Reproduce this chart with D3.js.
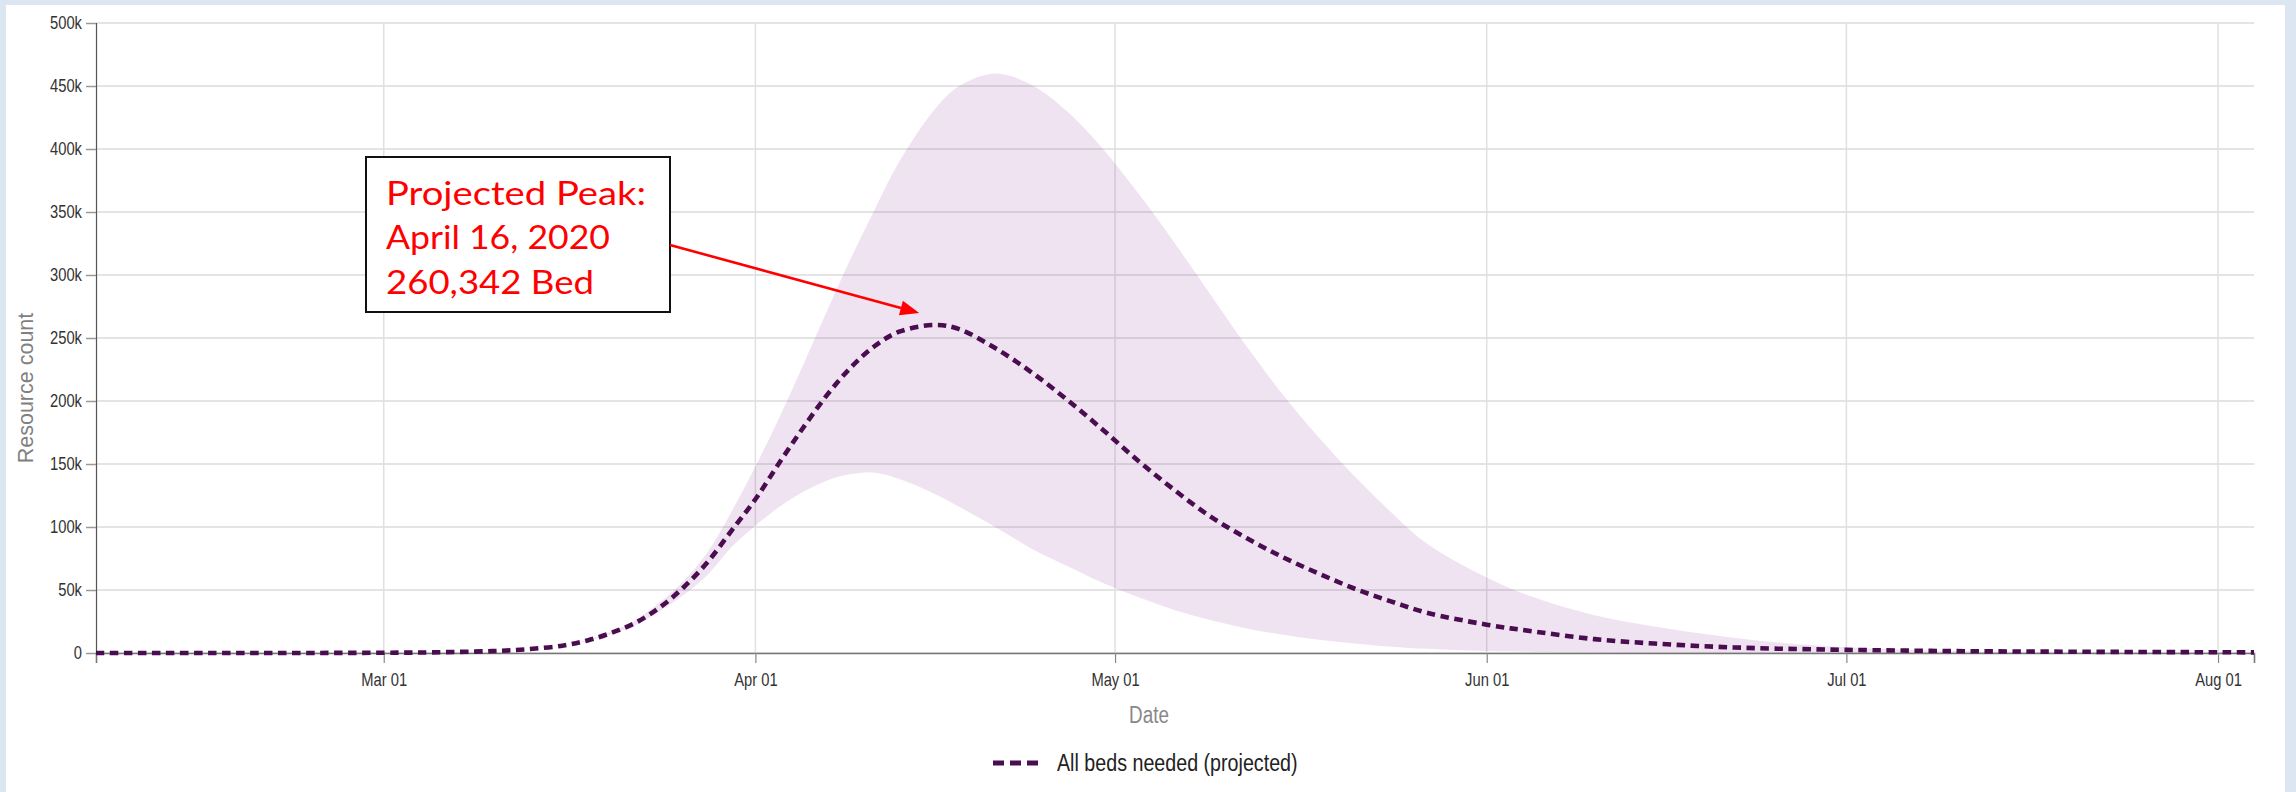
<!DOCTYPE html>
<html><head><meta charset="utf-8">
<script src="https://cdn.jsdelivr.net/npm/d3@7"></script>
<style>
html,body{margin:0;padding:0;background:#dce6f2;}
svg{display:block;}
</style></head><body>
<svg id="chart" width="2296" height="792"></svg>
<script>
// ---- data ----
const dateLabels = ["2020-02-06","2020-02-20","2020-03-01","2020-03-05","2020-03-10","2020-03-13","2020-03-16","2020-03-18","2020-03-20","2020-03-22","2020-03-24","2020-03-26","2020-03-28","2020-03-30","2020-04-01","2020-04-03","2020-04-05","2020-04-07","2020-04-09","2020-04-11","2020-04-13","2020-04-16","2020-04-18","2020-04-21","2020-04-24","2020-04-27","2020-04-30","2020-05-03","2020-05-06","2020-05-09","2020-05-12","2020-05-15","2020-05-18","2020-05-21","2020-05-24","2020-05-27","2020-06-01","2020-06-05","2020-06-10","2020-06-15","2020-06-20","2020-06-25","2020-07-01","2020-07-10","2020-07-20","2020-08-04"];
const bedsMean  = [0,0,200,500,1500,3000,6000,10000,16000,24000,36000,52000,72000,97000,122000,151000,179000,205000,227000,244000,255000,260342,257000,242000,223000,201000,177000,152000,129000,108000,91000,76000,63000,51000,41000,32000,22500,17000,11000,7500,5000,3500,2500,1500,1000,500];
const bedsLower = [0,0,200,500,1500,3000,6000,9500,15000,22000,33000,46000,62000,84000,101000,116000,128000,137000,142000,143000,138000,126000,116000,100000,83000,69000,55500,44000,34000,26000,19500,14500,10500,7500,5000,3300,1500,800,300,0,0,0,0,0,0,0];
const bedsUpper = [0,0,200,500,1500,3000,6000,10500,17000,26000,40000,57000,80000,112000,148000,187000,229000,272000,314000,353000,390000,432000,450000,460000,451000,430000,400000,364000,325000,284000,243000,205000,171000,140000,112000,87000,60000,44000,30000,21000,14000,8500,4500,1500,500,0];
const yTickValues = [0,50000,100000,150000,200000,250000,300000,350000,400000,450000,500000];
const xDomainLabels = ["2020-02-06","2020-08-04"];
const legendLabel = "All beds needed (projected)";
const xAxisTitle = "Date";
const yAxisTitle = "Resource count";
const annotationLines = ["Projected Peak:", "April 16, 2020", "260,342 Bed"];
const peakDateLabel = "2020-04-16";
const peakValue = 260342;

// ---- layout ----
const W = 2296, H = 792;
const L = 96, R = 2254, T = 23, B = 653;
const SX = 0.82; // horizontal text compression seen in the picture

const parse = d3.timeParse("%Y-%m-%d");
const data = dateLabels.map((d,i)=>({date:parse(d), mean:bedsMean[i], lo:bedsLower[i], hi:bedsUpper[i]}));

const x = d3.scaleTime().domain(xDomainLabels.map(parse)).range([L, R]);
const y = d3.scaleLinear().domain([0, 500000]).range([B, T]);

const svg = d3.select("#chart");
svg.append("rect").attr("x",6).attr("y",5).attr("width",2279).attr("height",787).attr("fill","#fff");

const monthTicks = x.ticks(d3.timeMonth.every(1));

// gridlines
svg.append("g").selectAll("line").data(yTickValues).join("line")
  .attr("x1",L).attr("x2",R).attr("y1",d=>y(d)).attr("y2",d=>y(d))
  .attr("stroke","#e4e4e4").attr("stroke-width",2);
svg.append("g").selectAll("line").data(monthTicks).join("line")
  .attr("x1",d=>x(d)).attr("x2",d=>x(d)).attr("y1",T).attr("y2",B)
  .attr("stroke","#e0e0e0").attr("stroke-width",1.5);

// band
const curve = d3.curveCatmullRom.alpha(0.5);
const area = d3.area().x(d=>x(d.date)).y0(d=>y(d.lo)).y1(d=>y(d.hi)).curve(curve);
svg.append("path").datum(data).attr("d",area)
  .attr("fill","rgb(140,40,150)").attr("fill-opacity",0.13);

// axes
const yAxis = d3.axisLeft(y).tickValues(yTickValues).tickSize(10).tickPadding(4)
  .tickFormat(v => v===0 ? "0" : (v/1000)+"k");
const gy = svg.append("g").attr("transform",`translate(${L},0)`).call(yAxis);
gy.select(".domain").attr("stroke","#555").attr("stroke-width",1.2);
gy.selectAll(".tick line").attr("stroke","#999").attr("stroke-width",1.5);
gy.selectAll(".tick text").attr("font-family","'Liberation Sans', Arial, sans-serif")
  .attr("font-size",18).attr("fill","#333")
  .attr("x",-14/SX).attr("transform",`scale(${SX},1)`);

const xAxis = d3.axisBottom(x).tickValues(monthTicks).tickSize(10).tickPadding(8)
  .tickFormat(d3.timeFormat("%b %d"));
const gx = svg.append("g").attr("transform",`translate(0,${B})`).call(xAxis);
gx.select(".domain").attr("stroke","#777").attr("stroke-width",1.6);
gx.selectAll(".tick line").attr("stroke","#888").attr("stroke-width",1.2);
gx.selectAll(".tick text").attr("font-family","'Liberation Sans', Arial, sans-serif")
  .attr("font-size",18).attr("fill","#333").attr("y",20)
  .attr("transform",`scale(${SX},1)`);

// mean line
const line = d3.line().x(d=>x(d.date)).y(d=>y(d.mean)).curve(curve);
svg.append("path").datum(data).attr("d",line)
  .attr("fill","none").attr("stroke","#4a0d4f").attr("stroke-width",4.6)
  .attr("stroke-dasharray","8.5,5.5");

// axis titles
svg.append("g").attr("transform","translate(1149,723)")
  .append("text").attr("transform",`scale(${SX},1)`).attr("text-anchor","middle")
  .attr("font-family","'Liberation Sans', Arial, sans-serif").attr("font-size",23)
  .attr("fill","#888").text(xAxisTitle);
svg.append("text").attr("transform","translate(33,388) rotate(-90)")
  .attr("text-anchor","middle").attr("font-family","'Liberation Sans', Arial, sans-serif")
  .attr("font-size",21.5).attr("fill","#808080").text(yAxisTitle);

// legend
svg.append("line").attr("x1",993).attr("x2",1038).attr("y1",763).attr("y2",763)
  .attr("stroke","#4a0d4f").attr("stroke-width",5).attr("stroke-dasharray","11,6");
svg.append("g").attr("transform","translate(1057,771)")
  .append("text").attr("transform",`scale(${SX},1)`)
  .attr("font-family","'Liberation Sans', Arial, sans-serif").attr("font-size",24)
  .attr("fill","#222").text(legendLabel);

// annotation
const box = {x:366, y:157, w:304, h:155};
svg.append("rect").attr("x",box.x).attr("y",box.y).attr("width",box.w).attr("height",box.h)
  .attr("fill","#fff").attr("stroke","#111").attr("stroke-width",2);
const annFont = "Lato, 'Open Sans', sans-serif";
const baselines = [204.5, 249, 293.5];
const lineWidths = [260, 224, 208];
svg.append("g").selectAll("text").data(annotationLines).join("text")
  .attr("x",386).attr("y",(d,i)=>baselines[i])
  .attr("textLength",(d,i)=>lineWidths[i]).attr("lengthAdjust","spacingAndGlyphs")
  .attr("font-family",annFont).attr("font-size",32).attr("fill","#ff0000").text(d=>d);

// arrow
const peakX = x(parse(peakDateLabel)), peakY = y(peakValue);
const sx = box.x+box.w, sy = 245;
const tx = peakX - 16, ty = peakY - 12;
const ang = Math.atan2(ty-sy, tx-sx);
const hl = 19, hw = 7.5;
const bx = tx - hl*Math.cos(ang), by = ty - hl*Math.sin(ang);
svg.append("line").attr("x1",sx).attr("y1",sy).attr("x2",bx).attr("y2",by)
  .attr("stroke","#ff0000").attr("stroke-width",2.6);
svg.append("path")
  .attr("d",`M${tx},${ty}L${bx - hw*Math.sin(ang)},${by + hw*Math.cos(ang)}L${bx + hw*Math.sin(ang)},${by - hw*Math.cos(ang)}Z`)
  .attr("fill","#ff0000");
</script>
</body></html>
